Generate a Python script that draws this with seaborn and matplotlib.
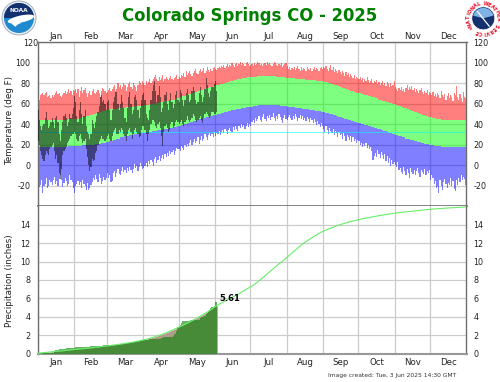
import numpy as np
import seaborn as sns
import matplotlib.pyplot as plt
from matplotlib.patches import Circle, Wedge, Ellipse

months = ['Jan', 'Feb', 'Mar', 'Apr', 'May', 'Jun', 'Jul', 'Aug', 'Sep', 'Oct', 'Nov', 'Dec']
month_start = [0, 31, 59, 90, 120, 151, 181, 212, 243, 273, 304, 334, 365]
temp_ticks = [-20, 0, 20, 40, 60, 80, 100, 120]
precip_ticks = [0, 2, 4, 6, 8, 10, 12, 14]

record_high = [
    72,64,68,69,70,68,70,71,66,67,68,65,68,66,68,70,72,69,70,67,66,68,70,72,69,71,74,70,72,68,73,
    72,74,70,74,66,72,76,70,73,75,70,66,70,72,68,72,74,70,69,71,73,70,66,72,75,74,72,70,
    71,73,75,72,74,76,78,72,74,80,76,78,74,76,80,78,72,76,79,81,76,74,80,78,76,72,78,82,80,78,82,
    80,78,82,79,81,84,80,82,84,86,88,84,82,86,83,85,88,82,84,86,84,83,85,87,84,83,85,86,88,84,
    86,85,88,87,90,86,92,88,90,92,89,87,90,92,94,90,89,92,94,91,92,95,90,92,96,93,91,94,92,95,96,
    94,93,95,96,95,97,96,98,95,97,99,96,98,97,100,98,96,99,100,97,99,101,98,100,99,97,100,101,99,97,
    98,99,97,100,98,99,101,100,98,99,97,99,100,98,101,99,100,98,97,99,101,100,98,97,99,98,100,96,98,99,100,
    97,94,96,93,95,94,96,93,95,97,94,92,96,93,95,94,92,96,94,93,95,92,94,96,93,95,94,92,95,96,94,
    96,95,97,94,92,95,98,93,96,91,94,92,90,93,91,89,92,90,87,91,88,90,86,89,87,85,88,84,86,85,
    84,86,83,85,81,84,82,86,83,80,82,84,80,82,81,83,79,81,78,80,82,78,80,77,81,79,76,80,77,78,82,
    76,74,72,75,73,76,72,74,71,75,78,73,76,74,77,73,75,71,74,72,70,73,75,71,69,72,70,73,68,71,
    70,68,71,67,69,66,70,68,65,72,68,66,69,64,67,70,65,68,66,63,70,68,77,66,64,69,65,62,71,66,65,
]
normal_high = [
    44,44,44,44,44,44,44,44,44,44,44,44,44,44,44,44,44,44,44,44,44,44,44,44,44,44,45,45,45,45,45,
    45,45,45,45,46,46,46,47,47,47,48,48,48,49,49,49,50,50,50,51,51,52,52,52,53,53,53,54,
    54,54,54,55,55,55,55,55,55,56,56,56,56,56,56,56,57,57,57,57,57,57,57,58,58,58,58,58,58,58,58,
    58,59,59,59,59,60,60,60,60,60,61,61,61,61,62,62,62,62,63,63,63,63,64,64,64,64,64,65,65,65,
    65,66,66,67,67,67,68,68,69,69,69,70,70,71,71,71,72,72,73,73,73,74,74,75,75,75,76,76,76,77,77,
    77,78,78,78,79,79,79,80,80,80,81,81,81,82,82,82,83,83,83,84,84,84,84,85,85,85,85,86,86,86,
    86,86,86,86,86,86,87,87,87,87,87,87,87,87,87,87,87,87,87,87,87,87,86,86,86,86,86,86,86,86,85,
    85,85,85,85,85,85,85,84,84,84,84,84,84,84,84,84,83,83,83,83,83,83,83,83,83,82,82,82,82,82,82,
    82,81,81,81,80,80,80,79,79,78,78,78,77,77,76,76,75,75,75,74,74,73,73,72,72,72,71,71,70,70,
    70,70,69,69,69,68,68,68,67,67,67,66,66,66,65,65,65,64,64,64,63,63,63,62,62,62,61,61,61,60,60,
    60,59,59,58,58,57,57,56,56,56,55,55,54,54,53,53,52,52,52,51,51,50,50,49,49,49,48,48,47,47,
    47,47,46,46,46,45,45,45,45,44,44,44,44,44,44,44,44,44,44,44,44,44,44,44,44,44,44,44,44,44,44,
]
normal_low = [
    18,18,18,18,18,18,18,18,18,18,18,18,18,18,18,18,18,18,18,18,18,18,18,18,18,18,19,19,19,19,19,
    19,19,19,19,19,19,19,20,20,20,20,20,20,20,20,20,20,20,21,21,21,21,21,22,22,22,22,23,
    23,23,24,24,24,25,25,25,26,26,26,27,27,27,27,28,28,28,28,29,29,29,29,30,30,30,30,31,31,31,31,
    31,31,32,32,32,32,32,33,33,33,33,33,34,34,34,34,34,35,35,35,35,35,36,36,36,36,37,37,37,38,
    38,38,39,39,39,40,40,41,41,41,42,42,43,43,43,44,44,45,45,45,46,46,46,47,47,47,48,48,48,49,49,
    49,49,50,50,50,51,51,51,52,52,52,53,53,53,54,54,54,54,55,55,55,55,56,56,56,56,57,57,57,57,
    57,57,58,58,58,58,58,59,59,59,59,59,59,59,59,59,59,59,59,59,59,59,59,59,59,58,58,58,58,58,58,
    57,57,57,57,57,57,57,56,56,56,56,56,56,55,55,55,55,55,55,54,54,54,54,54,53,53,53,53,53,52,52,
    52,52,51,51,51,50,50,50,49,49,49,48,48,47,47,47,46,46,45,45,45,44,44,44,43,43,42,42,42,41,
    41,41,40,40,40,39,39,39,38,38,38,37,37,36,36,36,35,35,35,34,34,33,33,33,32,32,31,31,31,30,30,
    29,29,29,28,28,28,27,27,27,26,26,26,26,25,25,25,24,24,24,23,23,23,22,22,22,21,21,21,21,20,
    20,20,20,19,19,19,19,19,19,18,18,18,18,18,18,18,18,18,18,18,18,18,18,18,18,18,18,18,18,18,18,
]
record_low = [
    -16,-21,-19,-14,-27,-20,-18,-12,-22,-20,-14,-16,-19,-14,-11,-18,-15,-20,-13,-10,-14,-21,-17,-12,-15,-20,-18,-10,-14,-16,-22,
    -27,-20,-18,-15,-19,-16,-22,-14,-18,-20,-24,-17,-24,-22,-19,-16,-12,-14,-10,-13,-16,-9,-12,-18,-15,-11,-14,-12,
    -8,-12,-10,-16,-15,-8,-6,-11,-8,-4,-9,-10,-6,-2,-7,-5,-8,-3,-6,-2,-5,-8,-4,1,-3,-1,-6,-2,2,-1,-4,
    -3,-1,2,-2,4,1,5,3,-1,6,8,2,5,9,4,7,10,6,11,8,12,9,14,11,13,15,10,14,17,16,
    16,14,19,17,15,20,18,21,19,22,25,20,23,26,22,24,27,21,25,28,24,26,30,27,25,29,31,28,30,27,32,
    28,31,30,33,29,32,34,31,35,33,30,34,36,33,32,37,34,38,35,33,38,36,40,37,39,35,38,41,37,40,
    38,42,44,41,46,43,45,48,44,42,47,50,45,43,48,46,49,44,47,51,46,43,48,45,50,47,44,41,46,49,45,
    44,47,49,46,44,48,45,50,47,43,46,49,45,48,44,46,43,47,45,42,46,44,41,45,42,39,43,40,37,41,38,
    35,32,38,34,30,36,33,31,35,29,33,31,27,32,29,30,26,31,28,24,29,27,25,28,23,27,24,26,22,25,
    24,20,22,18,21,19,22,17,20,16,18,14,5,9,12,8,15,11,7,13,10,6,11,4,9,2,7,-1,5,1,3,
    0,-2,3,-5,-3,-7,-9,-2,-6,-10,-4,-8,-12,-3,-7,-9,-5,-10,-6,-3,-8,-11,-5,-7,-9,-4,-10,-6,-8,-5,
    -14,-10,-12,-18,-15,-22,-20,-27,-14,-20,-24,-16,-13,-18,-22,-17,-19,-12,-20,-15,-23,-25,-14,-19,-12,-16,-10,-14,-11,-13,-19,
]

# observed 2025, Jan 1 to Jun 2
obs_high = [
    54,44,38,34,38,40,46,52,44,36,38,42,46,42,36,46,48,42,30,24,34,42,48,50,46,38,42,50,46,50,56,
    67,62,48,42,54,62,50,40,48,54,38,32,30,26,30,44,40,36,42,48,52,58,66,68,62,64,60,54,
    62,64,54,44,54,62,66,71,71,60,54,60,68,62,56,46,42,56,66,71,60,50,54,66,68,64,54,46,56,64,68,
    70,64,50,46,44,54,64,72,78,82,72,62,68,77,66,52,56,62,68,71,60,54,64,70,62,56,60,68,72,64,
    62,73,70,64,58,64,70,74,68,62,64,72,76,72,64,60,62,70,76,68,62,66,74,85,78,70,66,72,76,76,79,
    82,72,
]
obs_low = [
    24,20,14,10,6,4,10,14,12,10,16,18,20,22,14,6,10,2,-8,-13,-4,10,14,16,18,22,24,26,28,30,30,
    32,30,26,24,28,30,26,22,24,26,16,8,0,-6,-2,6,4,5,12,14,20,24,26,28,26,26,24,26,
    28,30,26,24,28,32,34,36,30,30,34,32,36,34,30,28,24,30,34,36,32,26,30,34,36,32,30,27,28,34,38,
    38,34,30,24,30,34,40,44,44,42,38,36,40,42,36,28,19,32,38,40,36,32,34,40,42,36,38,42,44,42,
    40,42,44,40,38,42,44,48,44,42,44,46,50,48,44,42,44,46,48,44,41,46,50,52,50,48,46,48,52,52,50,
    50,52,
]
obs_precip = [
    0,0,0,.02,.03,.03,.05,.05,.06,.06,.08,.08,.1,.1,.12,.38,.42,.42,.45,.45,.45,.48,.48,.5,.6,.6,.62,.62,.65,.65,.65,
    .65,.66,.66,.68,.68,.68,.7,.7,.7,.7,.72,.72,.74,.74,.8,.82,.82,.84,.84,.84,.85,.85,.85,.86,.86,.87,.87,.87,
    .87,.87,.88,.9,.9,.92,.92,.95,.95,.97,.97,1.0,1.0,1.04,1.05,1.1,1.12,1.14,1.18,1.2,1.22,1.24,1.28,1.3,1.32,1.34,1.36,1.38,1.4,1.42,1.44,
    1.46,1.48,1.5,1.52,1.52,1.54,1.54,1.55,1.55,1.55,1.55,1.55,1.55,1.55,1.55,1.72,1.72,1.74,1.74,1.76,1.76,1.78,1.78,1.8,1.8,1.9,2.1,2.1,2.4,2.9,
    3.0,3.1,3.3,3.5,3.55,3.55,3.56,3.57,3.58,3.58,3.6,3.6,3.62,3.62,3.65,3.65,3.65,3.65,3.9,3.92,3.95,4.0,4.1,4.3,4.4,4.5,4.7,5.0,5.05,5.1,5.15,
    5.55,5.61,
]
norm_day = [0,5,10,15,20,25,30,35,40,45,50,55,60,65,70,75,80,85,90,95,100,105,110,115,120,125,130,135,140,145,150,153,
            155,160,165,170,175,180,185,190,195,200,205,210,215,220,225,230,235,240,245,250,255,260,265,270,275,280,285,
            290,295,300,305,310,315,320,325,330,335,340,345,350,355,360,365]
norm_precip = [.02,.09,.16,.22,.28,.34,.42,.48,.54,.6,.68,.76,.83,.92,1.01,1.11,1.21,1.33,1.47,1.63,1.82,2.03,2.27,2.55,2.85,3.15,3.47,3.8,4.17,4.55,5.0,5.25,
               5.38,5.72,6.05,6.4,6.78,7.15,7.55,8.05,8.6,9.15,9.7,10.2,10.75,11.3,11.85,12.3,12.7,13.1,13.4,13.65,13.9,14.1,14.3,14.45,14.6,14.72,14.85,
               14.97,15.07,15.17,15.27,15.35,15.42,15.48,15.55,15.62,15.68,15.73,15.78,15.82,15.86,15.9,15.93]

W, H = 500, 382
sns.set_theme(style='whitegrid', rc={'font.family': 'DejaVu Sans', 'text.color': '#222222',
                                     'xtick.color': '#222222', 'ytick.color': '#222222',
                                     'axes.unicode_minus': False})
fig = plt.figure(figsize=(W / 100, H / 100), dpi=100, facecolor='white')

def px_axes(left, top, right, bottom, **kw):
    return fig.add_axes([left / W, 1 - bottom / H, (right - left) / W, (bottom - top) / H], **kw)

ax1 = px_axes(37.5, 42, 466.5, 206.3)
ax2 = px_axes(37.5, 206.3, 466.5, 353.5)

days = np.arange(365) + 0.5
rh, nh, nl, rl = map(np.array, (record_high, normal_high, normal_low, record_low))

# temperature panel
ax1.bar(days, rh - nh, bottom=nh, width=1, color='#ff0000', alpha=0.5, lw=0, zorder=2, antialiased=False)
ax1.bar(days, nh - nl, bottom=nl, width=1, color='#00ff00', alpha=0.5, lw=0, zorder=2, antialiased=False)
ax1.bar(days, nl - rl, bottom=rl, width=1, color='#0000ff', alpha=0.5, lw=0, zorder=2, antialiased=False)
ax1.axhline(32, color='#00ffff', lw=0.7, alpha=0.6, zorder=3)
oh, ol = np.array(obs_high), np.array(obs_low)
ax1.bar(days[:len(oh)], oh - ol, bottom=ol, width=1, color='black', alpha=0.5, lw=0, zorder=4, antialiased=False)
ax1.set_ylim(-40, 120)
ax1.set_yticks(temp_ticks)

# precipitation panel
idx = norm_day.index(153) + 1
ax2.fill_between(norm_day[:idx], 0, norm_precip[:idx], color='#b39a8a', lw=0, zorder=2)
ax2.bar(days[:len(obs_precip)], obs_precip, width=1, color='#008000', alpha=0.6, lw=0, zorder=3, antialiased=False)
sns.lineplot(x=norm_day, y=norm_precip, color='#66ee66', lw=0.8, ax=ax2, zorder=4)
ax2.text(154.5, 5.94, '5.61', fontsize=6, fontweight='bold', color='black', va='center', zorder=5)
ax2.set_ylim(0, 16)
ax2.set_yticks(precip_ticks)
ax2.set_xlabel('')
ax2.set_ylabel('')

month_mid = [(month_start[i] + month_start[i + 1]) / 2 for i in range(12)]
for ax, top in ((ax1, True), (ax2, False)):
    ax.set_xlim(0, 365)
    ax.set_xticks(month_start)
    ax.set_xticklabels([])
    ax.set_xticks(month_mid, minor=True)
    ax.set_xticklabels(months, minor=True)
    ax.grid(True, which='major', color='#cccccc', lw=0.9)
    ax.grid(False, which='minor')
    ax.set_axisbelow(True)
    ax.tick_params(axis='x', which='major', length=0)
    ax.tick_params(axis='x', which='minor', length=0, labelsize=6.2, pad=1 if top else 3.5,
                   labeltop=top, labelbottom=not top)
    ax.tick_params(axis='y', length=0, labelsize=5.8, pad=5, labelleft=True, labelright=True)
    for side in ax.spines:
        ax.spines[side].set_color('#6e6e6e')
        ax.spines[side].set_linewidth(1.0)
ax2.spines['top'].set_visible(False)
ax1.spines['bottom'].set_linewidth(1.2)
ax2.spines['bottom'].set_color('#999999')
ax2.spines['bottom'].set_linewidth(1.5)

# the top left label sits right on the corner in the original
ax1.yaxis.get_major_ticks()[-1].label1.set_x(0.0186)

fig.text(122.5 / W, 1 - 16 / H, 'Colorado Springs CO - 2025', fontsize=11.9, fontweight='bold',
         color='#008000', va='center', ha='left')
fig.text(10 / W, 1 - 120 / H, 'Temperature (deg F)', fontsize=6.3, rotation=90, va='center', ha='center')
fig.text(10 / W, 1 - 281 / H, 'Precipitation (inches)', fontsize=6.3, rotation=90, va='center', ha='center')
fig.text(327.7 / W, 1 - 375.5 / H, 'Image created: Tue, 3 Jun 2025 14:30 GMT', fontsize=4.3,
         va='center', ha='left', color='#333333')

# logos, in pixel coordinates
logo = fig.add_axes([0, 0, 1, 1], facecolor='none')
logo.set_xlim(0, W)
logo.set_ylim(H, 0)
logo.axis('off')
logo.add_patch(Circle((19, 18), 17, fc='#e8edf3', ec='#9aa7b5', lw=0.6))
logo.add_patch(Circle((19, 18), 15, fc='#1f8ad0', ec='none'))
logo.add_patch(Wedge((19, 18), 15, 180, 360, fc='#14306f', ec='none'))
logo.add_patch(Ellipse((21, 19), 27, 7, angle=-12, fc='white', ec='none'))
logo.add_patch(Ellipse((17, 24), 12, 6, angle=25, fc='white', ec='none'))
logo.add_patch(Ellipse((22, 26), 13, 6, angle=-15, fc='#1f8ad0', ec='none'))
logo.text(19, 11, 'NOAA', color='white', fontsize=4.2, fontweight='bold', ha='center', va='center')

nx, ny = 483.3, 18.3
logo.add_patch(Circle((nx, ny), 11.5, fc='#14306f', ec='white', lw=0.5))
logo.add_patch(Wedge((nx, ny), 10.5, 195, 345, fc='#7fb2e5', ec='none'))
logo.plot([nx - 6, nx + 6], [ny - 7, ny + 8], color='white', lw=0.9)
ring = 'NATIONAL WEATHER SERVICE *'
for i, ch in enumerate(ring):
    ang = np.deg2rad(-205 + i * 360 / len(ring))
    logo.text(nx + 14.5 * np.cos(ang), ny + 14.5 * np.sin(ang), ch, color='#e8102a', fontsize=3.6,
              fontweight='bold', ha='center', va='center', rotation=-np.rad2deg(ang) - 90)

fig.savefig('out.png', dpi=100)
